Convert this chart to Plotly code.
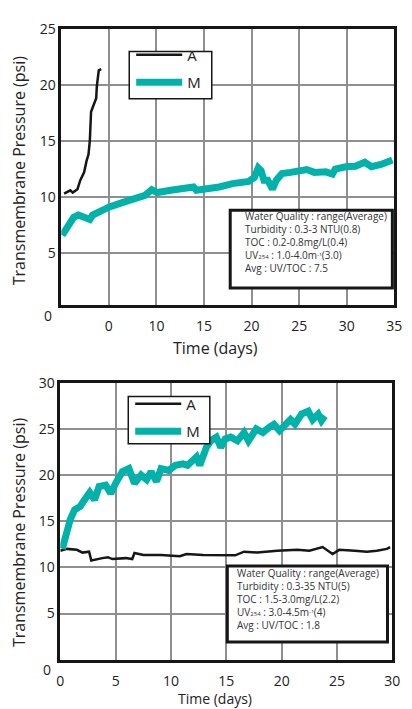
import plotly.graph_objects as go

# ---------------- data: top panel ----------------
top_a_x = [0.3, 0.95, 1.2, 1.7, 2.0, 2.4, 2.65, 2.86, 3.0, 3.1, 3.13, 3.4, 3.67, 3.74, 3.84, 3.94, 4.2]
top_a_y = [10.3, 10.6, 10.4, 10.7, 11.5, 12.2, 13.2, 13.8, 15.0, 16.4, 17.6, 18.2, 18.8, 19.9, 20.8, 21.3, 21.4]

top_m_x = [0.1, 0.6, 1.3, 1.8, 2.3, 3.0, 3.3, 4.0, 5.0, 6.4, 7.8, 8.8, 9.5, 10.1, 11.5, 12.9, 13.9, 14.2,
           15.2, 16.6, 18.0, 19.7, 20.3, 20.7, 21.0, 21.3, 21.7, 22.2, 22.6, 23.2, 24.1, 25.1, 25.8, 26.6,
           27.8, 28.5, 28.8, 29.9, 30.9, 31.9, 32.6, 33.6, 34.8]
top_m_y = [6.6, 7.4, 8.2, 8.4, 8.2, 8.0, 8.4, 8.7, 9.1, 9.5, 9.85, 10.15, 10.65, 10.4, 10.6, 10.8, 10.9, 10.6,
           10.7, 10.9, 11.2, 11.4, 11.75, 12.6, 12.35, 11.5, 11.5, 10.7, 11.5, 12.1, 12.2, 12.3, 12.45, 12.2,
           12.25, 12.05, 12.5, 12.7, 12.75, 13.1, 12.7, 12.9, 13.3]

top_x_ticks = [5, 10, 15, 20, 25, 30, 35]
top_x_labels = ["0", "10", "15", "20", "25", "30", "35"]
top_y_ticks = [5, 10, 15, 20, 25]

SUB254 = "<span style='font-size:6px'>254</span>"
top_box_lines = ["Water Quality : range(Average)",
                 "Turbidity : 0.3-3 NTU(0.8)",
                 "TOC : 0.2-0.8mg/L(0.4)",
                 "UV" + SUB254 + " : 1.0-4.0m<span style='font-size:7px'>⁻¹</span>(3.0)",
                 "Avg : UV/TOC : 7.5"]

# ---------------- data: bottom panel ----------------
bot_m_x = [0.18, 0.47, 0.9, 1.3, 1.8, 2.1, 2.66, 3.1, 3.5, 4.1, 4.56, 5.0, 5.6, 6.2, 6.7, 7.3, 7.8, 8.2, 8.7,
           9.1, 9.8, 10.4, 11.1, 11.5, 12.3, 12.6, 13.2, 13.6, 14.1, 14.5, 14.9, 15.4, 16.0, 16.6, 17.0, 17.7,
           18.3, 18.9, 19.3, 19.8, 20.4, 20.8, 21.2, 21.8, 22.4, 22.8, 23.3, 23.6, 23.9]
bot_m_y = [12.0, 13.4, 15.2, 16.25, 16.6, 17.15, 18.1, 17.3, 18.75, 18.9, 18.0, 19.1, 20.35, 20.7, 19.1, 20.0,
           19.5, 20.35, 19.3, 20.7, 20.5, 21.05, 21.2, 21.05, 21.95, 21.05, 23.0, 23.7, 24.1, 23.0, 23.9, 24.1,
           23.7, 24.6, 23.7, 25.0, 24.6, 25.2, 25.5, 24.8, 25.7, 26.0, 25.5, 26.6, 26.9, 26.0, 26.6, 25.9, 26.4]

bot_a_x = [0.0, 0.6, 1.5, 2.0, 2.6, 2.8, 3.8, 4.3, 4.7, 5.9, 6.5, 6.7, 7.5, 9.1, 10.8, 11.4, 12.9, 14.4, 15.8,
           16.6, 17.8, 19.6, 21.4, 22.5, 23.7, 24.6, 25.2, 26.6, 27.7, 28.6, 29.5, 29.8]
bot_a_y = [11.8, 12.0, 11.9, 11.6, 11.7, 10.75, 11.0, 11.1, 10.9, 11.0, 10.9, 11.55, 11.35, 11.35, 11.2, 11.45,
           11.35, 11.35, 11.3, 11.7, 11.6, 11.8, 11.9, 11.8, 12.2, 11.45, 11.9, 11.8, 11.7, 11.8, 12.0, 12.2]

bot_x_ticks = [0, 5, 10, 15, 20, 25, 30]
bot_x_labels = ["0", "5", "10", "15", "20", "25", "30"]
bot_y_ticks = [5, 10, 15, 20, 25, 30]

bot_box_lines = ["Water Quality : range(Average)",
                 "Turbidity : 0.3-35 NTU(5)",
                 "TOC : 1.5-3.0mg/L(2.2)",
                 "UV" + SUB254 + " : 3.0-4.5m<span style='font-size:7px'>⁻¹</span>(4)",
                 "Avg : UV/TOC : 1.8"]

# ---------------- styling ----------------
W, H = 412, 709
FONT = "Open Sans, Noto Sans, DejaVu Sans, sans-serif"
TEAL = "#00b2aa"
BLACK = "#161616"
GRID = "#8f8f8f"

def px(x):
    return x / W

def py(y):
    return 1 - y / H

fig = go.Figure()
fig.add_trace(go.Scatter(x=top_a_x, y=top_a_y, mode="lines", name="A", line=dict(color=BLACK, width=2.5),
                         xaxis="x", yaxis="y", legend="legend", legendgroup="a1"))
fig.add_trace(go.Scatter(x=top_m_x, y=top_m_y, mode="lines", name="M", line=dict(color=TEAL, width=7),
                         xaxis="x", yaxis="y", legend="legend", legendgroup="m1"))
fig.add_trace(go.Scatter(x=bot_a_x, y=bot_a_y, mode="lines", name="A", line=dict(color=BLACK, width=2.5),
                         xaxis="x2", yaxis="y2", legend="legend2", legendgroup="a2"))
fig.add_trace(go.Scatter(x=bot_m_x, y=bot_m_y, mode="lines", name="M", line=dict(color=TEAL, width=7),
                         xaxis="x2", yaxis="y2", legend="legend2", legendgroup="m2"))

axis_common = dict(showgrid=True, gridcolor=GRID, gridwidth=1.5, showline=True, linecolor=BLACK,
                   linewidth=2.5, mirror=True, zeroline=False, tickfont=dict(size=14, color="#222"),
                   fixedrange=True)

fig.update_layout(
    width=W, height=H, margin=dict(l=0, r=0, t=0, b=0),
    paper_bgcolor="white", plot_bgcolor="white",
    font=dict(family=FONT, color="#222"),
    xaxis=dict(domain=[px(59), px(402)], range=[0, 35], anchor="y", tickmode="array",
               tickvals=top_x_ticks, ticktext=top_x_labels, ticks="outside", ticklen=7,
               tickcolor="rgba(0,0,0,0)", **axis_common),
    yaxis=dict(domain=[py(299), py(19)], range=[0.4, 25], anchor="x", tickmode="array",
               tickvals=top_y_ticks, **axis_common),
    xaxis2=dict(domain=[px(58), px(400)], range=[0, 30], anchor="y2", tickmode="array",
                tickvals=bot_x_ticks, ticktext=bot_x_labels, ticks="outside", ticklen=7,
                tickcolor="rgba(0,0,0,0)", **axis_common),
    yaxis2=dict(domain=[py(659), py(378)], range=[0, 30], anchor="x2", tickmode="array",
                tickvals=bot_y_ticks, **axis_common),
    legend=dict(x=px(131), y=py(29), xanchor="left", yanchor="top", bgcolor="rgba(0,0,0,0)",
                borderwidth=0, font=dict(size=15, color="#222"), itemwidth=46, tracegroupgap=5,
                itemclick=False, itemdoubleclick=False),
    legend2=dict(x=px(130), y=py(383), xanchor="left", yanchor="top", bgcolor="rgba(0,0,0,0)",
                 borderwidth=0, font=dict(size=15, color="#222"), itemwidth=46, tracegroupgap=5,
                 itemclick=False, itemdoubleclick=False),
    showlegend=True,
)

shapes = []
# legend boxes
for (x0, y0, x1, y1) in [(129, 42, 214, 90), (128, 392, 212, 440)]:
    shapes.append(dict(type="rect", xref="paper", yref="paper", x0=px(x0), x1=px(x1), y0=py(y1), y1=py(y0),
                       line=dict(color=BLACK, width=1.5), fillcolor="white", layer="above"))
# water quality boxes
for (x0, y0, x1, y1) in [(233, 203, 400, 282), (230, 564, 395, 641)]:
    shapes.append(dict(type="rect", xref="paper", yref="paper", x0=px(x0), x1=px(x1), y0=py(y1), y1=py(y0),
                       line=dict(color=BLACK, width=3), fillcolor="white", layer="above"))
fig.update_layout(shapes=shapes)

ann = []
ann.append(dict(xref="paper", yref="paper", x=px(246), y=py(200), xanchor="left", yanchor="top",
                text="<br>".join(top_box_lines), showarrow=False, align="left",
                font=dict(size=10, color="#333")))
ann.append(dict(xref="paper", yref="paper", x=px(238), y=py(562), xanchor="left", yanchor="top",
                text="<br>".join(bot_box_lines), showarrow=False, align="left",
                font=dict(size=10, color="#333")))
# shifted origin "0" labels
ann.append(dict(xref="paper", yref="paper", x=px(52), y=py(310), xanchor="right", yanchor="middle",
                text="0", showarrow=False, font=dict(size=14, color="#222")))
ann.append(dict(xref="paper", yref="paper", x=px(50), y=py(669), xanchor="right", yanchor="middle",
                text="0", showarrow=False, font=dict(size=14, color="#222")))
# axis titles
for (cx, cy, fs) in [(218, 343, 16), (217, 698, 14)]:
    ann.append(dict(xref="paper", yref="paper", x=px(cx), y=py(cy), xanchor="center", yanchor="middle",
                    text="Time (days)", showarrow=False, font=dict(size=fs, color="#222")))
for (cx, cy) in [(15, 163), (15, 530)]:
    ann.append(dict(xref="paper", yref="paper", x=px(cx), y=py(cy), xanchor="center", yanchor="middle",
                    text="Transmembrane Pressure (psi)", textangle=-90, showarrow=False,
                    font=dict(size=16, color="#222")))
fig.update_layout(annotations=ann)

fig.write_html("out.html", config={"displayModeBar": False},
               post_script="document.body.style.margin='0';document.body.style.padding='0';")
